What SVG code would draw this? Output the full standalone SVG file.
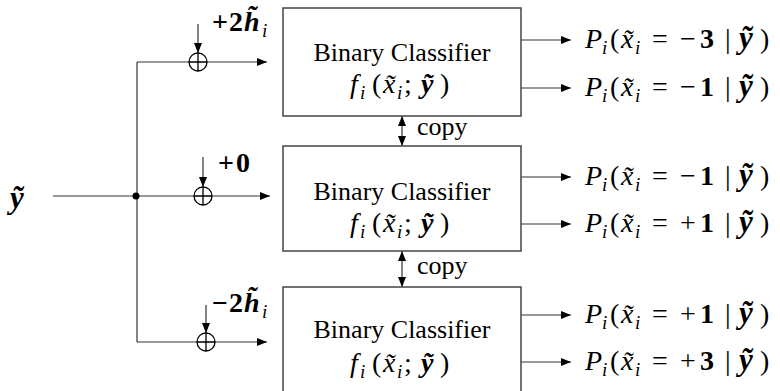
<svg xmlns="http://www.w3.org/2000/svg" width="780" height="391" viewBox="0 0 780 391">
<defs>
<marker id="ah" viewBox="0 0 10 8" refX="10" refY="4" markerWidth="10" markerHeight="8" markerUnits="userSpaceOnUse" orient="auto">
<path d="M0,0 L10,4 L0,8 Z" fill="#000"/>
</marker>
<marker id="ahs" viewBox="0 0 10 8" refX="10" refY="4" markerWidth="10" markerHeight="8" markerUnits="userSpaceOnUse" orient="auto-start-reverse">
<path d="M0,0 L10,4 L0,8 Z" fill="#000"/>
</marker>
<g id="sum">
<circle cx="0" cy="0" r="9" fill="#fff" stroke="#000" stroke-width="1.3"/>
<path d="M-9,0 H9 M0,-9 V9" stroke="#000" stroke-width="1.3"/>
</g>
</defs>
<style>
.ln{stroke:#333;stroke-width:1.2;fill:none}
.box{fill:#fff;stroke:#444;stroke-width:1.5}
.t{font-family:"Liberation Serif","Times New Roman",serif;font-size:26px;fill:#000}
.m{font-family:"Liberation Serif","Times New Roman",serif;font-size:28px;fill:#000;font-style:italic}
.b{font-weight:bold;font-style:normal}
.bi{font-weight:bold;font-style:italic;font-size:31px}
.bk{font-weight:bold;font-style:italic;font-size:28px}
.n{font-style:normal}
.sub{font-size:19px}
.c{font-family:"Liberation Serif","Times New Roman",serif;font-size:26px;fill:#000}
.lb{font-family:"Liberation Serif","Times New Roman",serif;font-size:28px;fill:#000;font-weight:bold}
</style>
<rect width="780" height="391" fill="#fff"/>
<g id="connectors">
<path class="ln" d="M53,196 H136"/>
<path class="ln" d="M137,62 V342"/>
<path class="ln" d="M137,62 H267" marker-end="url(#ah)"/>
<path class="ln" d="M136,196 H270" marker-end="url(#ah)"/>
<path class="ln" d="M137,342 H267" marker-end="url(#ah)"/>
<path class="ln" d="M198,24 V53" marker-end="url(#ah)"/>
<path class="ln" d="M203,157 V187" marker-end="url(#ah)"/>
<path class="ln" d="M206,305 V333" marker-end="url(#ah)"/>
<path class="ln" d="M521,40 H571" marker-end="url(#ah)"/>
<path class="ln" d="M521,88 H571" marker-end="url(#ah)"/>
<path class="ln" d="M521,177 H571" marker-end="url(#ah)"/>
<path class="ln" d="M521,224 H571" marker-end="url(#ah)"/>
<path class="ln" d="M521,315 H571" marker-end="url(#ah)"/>
<path class="ln" d="M521,362 H571" marker-end="url(#ah)"/>
<path class="ln" d="M402,116 V146" marker-start="url(#ahs)" marker-end="url(#ah)"/>
<path class="ln" d="M402,251 V287" marker-start="url(#ahs)" marker-end="url(#ah)"/>
<circle cx="136" cy="196" r="3.5" fill="#000"/>
</g>
<g id="sum1"><use href="#sum" x="198" y="62"/></g>
<g id="sum2"><use href="#sum" x="203" y="196"/></g>
<g id="sum3"><use href="#sum" x="206" y="342"/></g>
<g id="input"><text class="m" x="10" y="208"><tspan class="bi" font-size="33">ỹ</tspan></text></g>
<g id="lbl1"><text class="lb" y="31"><tspan x="212">+</tspan><tspan x="229">2</tspan><tspan x="244" font-style="italic">h̃</tspan><tspan x="262" y="37" font-weight="normal" font-style="italic" font-size="19">i</tspan></text></g>
<g id="lbl2"><text class="lb" y="172"><tspan x="218">+</tspan><tspan x="236">0</tspan></text></g>
<g id="lbl3"><text class="lb" y="312"><tspan x="212">−</tspan><tspan x="229">2</tspan><tspan x="244" font-style="italic">h̃</tspan><tspan x="262" y="318" font-weight="normal" font-style="italic" font-size="19">i</tspan></text></g>
<g id="box1">
<rect class="box" x="283" y="8" width="238" height="108"/>
<text class="t" x="402" y="61" text-anchor="middle">Binary Classifier</text>
<text class="m" y="93"><tspan x="350">f</tspan><tspan class="sub" x="360" y="99">i</tspan><tspan class="n" x="372" y="93">(</tspan><tspan x="383">x̃</tspan><tspan class="sub" x="397" y="99">i</tspan><tspan class="n" x="404" y="93">;</tspan><tspan class="bk" x="421">ỹ</tspan><tspan class="n" x="440">)</tspan></text>
</g>
<g id="box2">
<rect class="box" x="283" y="146" width="238" height="105"/>
<text class="t" x="402" y="200" text-anchor="middle">Binary Classifier</text>
<text class="m" y="232"><tspan x="350">f</tspan><tspan class="sub" x="360" y="238">i</tspan><tspan class="n" x="372" y="232">(</tspan><tspan x="383">x̃</tspan><tspan class="sub" x="397" y="238">i</tspan><tspan class="n" x="404" y="232">;</tspan><tspan class="bk" x="421">ỹ</tspan><tspan class="n" x="440">)</tspan></text>
</g>
<g id="box3">
<rect class="box" x="283" y="287" width="238" height="110"/>
<text class="t" x="402" y="338" text-anchor="middle">Binary Classifier</text>
<text class="m" y="372"><tspan x="350">f</tspan><tspan class="sub" x="360" y="378">i</tspan><tspan class="n" x="372" y="372">(</tspan><tspan x="383">x̃</tspan><tspan class="sub" x="397" y="378">i</tspan><tspan class="n" x="404" y="372">;</tspan><tspan class="bk" x="421">ỹ</tspan><tspan class="n" x="440">)</tspan></text>
</g>
<g id="copy1"><text class="c" x="417" y="135">copy</text></g>
<g id="copy2"><text class="c" x="417" y="274">copy</text></g>
<g id="out">
<text class="m" y="48"><tspan x="585">P</tspan><tspan class="sub" x="602" y="54">i</tspan><tspan class="n" x="610" y="48">(</tspan><tspan x="621">x̃</tspan><tspan class="sub" x="635" y="54">i</tspan><tspan class="n" x="652" y="48">=</tspan><tspan class="n" x="680">−</tspan><tspan class="b" x="700">3</tspan><tspan class="n" x="725">|</tspan><tspan class="bi" x="739">ỹ</tspan><tspan class="n" x="760">)</tspan></text>
<text class="m" y="96"><tspan x="585">P</tspan><tspan class="sub" x="602" y="102">i</tspan><tspan class="n" x="610" y="96">(</tspan><tspan x="621">x̃</tspan><tspan class="sub" x="635" y="102">i</tspan><tspan class="n" x="652" y="96">=</tspan><tspan class="n" x="680">−</tspan><tspan class="b" x="700">1</tspan><tspan class="n" x="725">|</tspan><tspan class="bi" x="739">ỹ</tspan><tspan class="n" x="760">)</tspan></text>
<text class="m" y="185"><tspan x="585">P</tspan><tspan class="sub" x="602" y="191">i</tspan><tspan class="n" x="610" y="185">(</tspan><tspan x="621">x̃</tspan><tspan class="sub" x="635" y="191">i</tspan><tspan class="n" x="652" y="185">=</tspan><tspan class="n" x="680">−</tspan><tspan class="b" x="700">1</tspan><tspan class="n" x="725">|</tspan><tspan class="bi" x="739">ỹ</tspan><tspan class="n" x="760">)</tspan></text>
<text class="m" y="232"><tspan x="585">P</tspan><tspan class="sub" x="602" y="238">i</tspan><tspan class="n" x="610" y="232">(</tspan><tspan x="621">x̃</tspan><tspan class="sub" x="635" y="238">i</tspan><tspan class="n" x="652" y="232">=</tspan><tspan class="n" x="680">+</tspan><tspan class="b" x="700">1</tspan><tspan class="n" x="725">|</tspan><tspan class="bi" x="739">ỹ</tspan><tspan class="n" x="760">)</tspan></text>
<text class="m" y="323"><tspan x="585">P</tspan><tspan class="sub" x="602" y="329">i</tspan><tspan class="n" x="610" y="323">(</tspan><tspan x="621">x̃</tspan><tspan class="sub" x="635" y="329">i</tspan><tspan class="n" x="652" y="323">=</tspan><tspan class="n" x="680">+</tspan><tspan class="b" x="700">1</tspan><tspan class="n" x="725">|</tspan><tspan class="bi" x="739">ỹ</tspan><tspan class="n" x="760">)</tspan></text>
<text class="m" y="370"><tspan x="585">P</tspan><tspan class="sub" x="602" y="376">i</tspan><tspan class="n" x="610" y="370">(</tspan><tspan x="621">x̃</tspan><tspan class="sub" x="635" y="376">i</tspan><tspan class="n" x="652" y="370">=</tspan><tspan class="n" x="680">+</tspan><tspan class="b" x="700">3</tspan><tspan class="n" x="725">|</tspan><tspan class="bi" x="739">ỹ</tspan><tspan class="n" x="760">)</tspan></text>
</g>
</svg>
